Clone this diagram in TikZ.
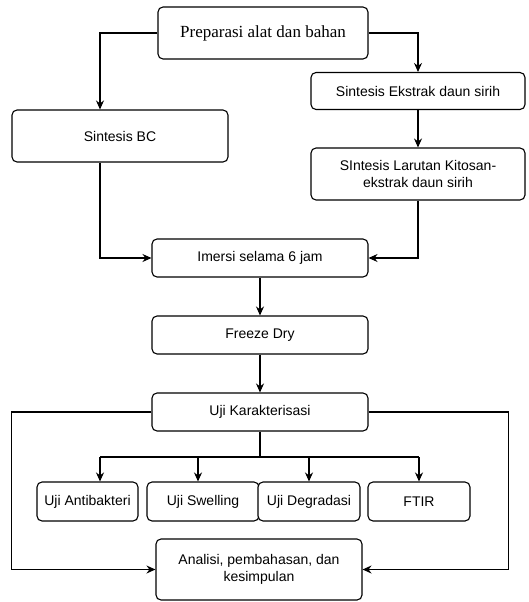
\documentclass[tikz,border=0pt]{standalone}
\usepackage{fontspec}
\setmainfont{Liberation Serif}
\setsansfont{Liberation Sans}
\usetikzlibrary{positioning,arrows.meta}
\tikzset{
  flowarrow/.style={-{Stealth[length=9pt,width=8pt]}, line width=1.1pt},
  flowline/.style={line width=1.1pt},
  procbox/.style={draw, rounded corners=5pt, line width=1.1pt, fill=white, minimum width=216pt, minimum height=38pt, align=center, inner sep=2pt, font=\sffamily\fontsize{14}{17}\selectfont},
  headbox/.style={procbox, minimum width=210pt, minimum height=52pt, font=\rmfamily\fontsize{17}{20}\selectfont},
  testbox/.style={procbox, minimum height=39pt}
}

\begin{document}
\begin{tikzpicture}[x=1pt, y=-1pt]
      \useasboundingbox (0,0) rectangle (528,602);
      \node[headbox] (prep) at (263,33) {Preparasi alat dan bahan};
      \node[procbox, minimum height=52pt] (bc) at (120,136) {Sintesis BC};
      \node[procbox, minimum width=214pt, minimum height=37pt] (ekstrak) at (418,91) {Sintesis Ekstrak daun sirih};
      \node[procbox, minimum width=214pt, minimum height=52pt] (larutan) at (418,174) {SIntesis Larutan Kitosan-\\ekstrak daun sirih};
      \node[procbox] (imersi) at (260,258) {Imersi selama 6 jam};
      \node[procbox] (freeze) at (260,335) {Freeze Dry};
      \node[procbox] (uji) at (260,412) {Uji Karakterisasi};
      \node[testbox, minimum width=101pt] (antib) at (87.5,501.5) {Uji Antibakteri};
      \node[testbox, minimum width=112pt] (swell) at (203,501.5) {Uji Swelling};
      \node[testbox, minimum width=102pt] (degra) at (309,501.5) {Uji Degradasi};
      \node[testbox, minimum width=102pt] (ftir) at (419,501.5) {FTIR};
      \node[procbox, minimum width=206pt, minimum height=61pt] (analisi) at (259,569.5) {Analisi, pembahasan, dan\\kesimpulan};
      \coordinate (bcdrop) at (100,136);
      \coordinate (split) at (260,457);
      \coordinate (b1) at (100,457);
      \coordinate (b2) at (198,457);
      \coordinate (b3) at (309,457);
      \coordinate (b4) at (419,457);
      \draw[flowarrow] (prep.west) -| (bcdrop |- bc.north);
      \draw[flowarrow] (prep.east) -| (ekstrak.north);
      \draw[flowarrow] (ekstrak) -- (larutan);
      \draw[flowarrow] (bcdrop |- bc.south) |- (imersi.west);
      \draw[flowarrow] (larutan.south) |- (imersi.east);
      \draw[flowarrow] (imersi) -- (freeze);
      \draw[flowarrow] (freeze) -- (uji);
      \draw[flowline] (uji.south) -- (split);
      \draw[flowline] (b1) -- (b4);
      \draw[flowarrow] (b1) -- (b1 |- antib.north);
      \draw[flowarrow] (b2) -- (b2 |- swell.north);
      \draw[flowarrow] (b3) -- (b3 |- degra.north);
      \draw[flowarrow] (b4) -- (b4 |- ftir.north);
      \draw[flowarrow] (uji.west) -- ++(-140,0) |- (analisi.west);
      \draw[flowarrow] (uji.east) -- ++(140,0) |- (analisi.east);
    \end{tikzpicture}
\end{document}
